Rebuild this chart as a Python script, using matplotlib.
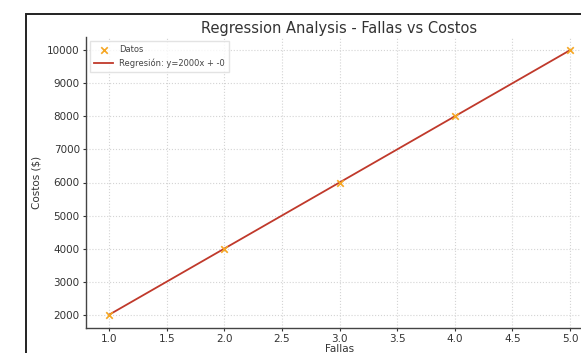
import numpy as np
import matplotlib
matplotlib.use("Agg")
import matplotlib.pyplot as plt
from matplotlib.patches import Rectangle

# data
fallas = [1, 2, 3, 4, 5]
costos = [2000, 4000, 6000, 8000, 10000]
reg_label = "Regresión: y=2000x + -0"
slope = 2000
intercept = 0

fig = plt.figure(figsize=(5.81, 3.53), dpi=100)

# outer frame of the original screenshot
fig.patches.append(Rectangle((26 / 581, -0.1), 1.2, 1.1 - 14 / 353,
                             transform=fig.transFigure, fill=False,
                             edgecolor="#222222", linewidth=1.4))

ax = fig.add_axes([86 / 581, 25 / 353, 507 / 581, 291 / 353])

x = np.array(fallas)
ax.plot(x, slope * x + intercept, color="#c0392b", linewidth=1.3,
        label=reg_label, zorder=2)
ax.scatter(fallas, costos, marker="x", color="#f5a623", s=22, linewidths=1.2,
           label="Datos", zorder=3)

ax.set_xlim(0.8, 5.2)
ax.set_ylim(1600, 10400)
ax.set_xticks(np.arange(1.0, 5.01, 0.5))
ax.set_yticks(range(2000, 10001, 1000))

for s in ["top", "right"]:
    ax.spines[s].set_visible(False)
for s in ["left", "bottom"]:
    ax.spines[s].set_color("#444444")
    ax.spines[s].set_linewidth(1.0)

ax.grid(True, linestyle=":", color="#d4d4d4", linewidth=0.8)
ax.tick_params(labelsize=7.5, colors="#333333", length=2.5, width=0.8, pad=2)
ax.set_xlabel("Fallas", fontsize=7.5, color="#333333", labelpad=0)
ax.set_ylabel("Costos ($)", fontsize=7.5, color="#333333", labelpad=4)
ax.set_title("Regression Analysis - Fallas vs Costos", fontsize=10.5,
             color="#333333", pad=3)

handles, labels = ax.get_legend_handles_labels()
ax.legend(handles[::-1], labels[::-1], loc="upper left", fontsize=6.0,
          frameon=True, edgecolor="#dddddd", fancybox=False,
          borderpad=0.5, handlelength=2.2, labelcolor="#444444",
          bbox_to_anchor=(0.0, 1.0))

fig.savefig("out.png", dpi=100)
